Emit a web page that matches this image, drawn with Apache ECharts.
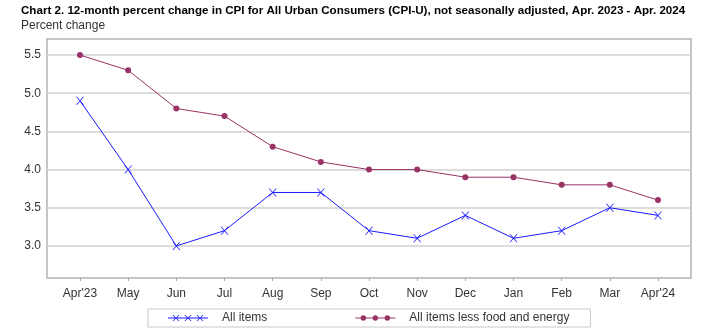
<!DOCTYPE html>
<html><head><meta charset="utf-8">
<script src="https://cdn.jsdelivr.net/npm/echarts@6/dist/echarts.min.js"></script>
<style>html,body{margin:0;padding:0;background:#fff}#c{width:706px;height:335px}</style>
</head><body><div id="c"></div>
<script>
const categories = ["Apr'23","May","Jun","Jul","Aug","Sep","Oct","Nov","Dec","Jan","Feb","Mar","Apr'24"];
const allItems = [4.9, 4.0, 3.0, 3.2, 3.7, 3.7, 3.2, 3.1, 3.4, 3.1, 3.2, 3.5, 3.4];
const coreItems = [5.5, 5.3, 4.8, 4.7, 4.3, 4.1, 4.0, 4.0, 3.9, 3.9, 3.8, 3.8, 3.6];
const yTicks = [3.0, 3.5, 4.0, 4.5, 5.0, 5.5];
const seriesNames = ["All items", "All items less food and energy"];

const FONT = "'Liberation Sans', Arial, sans-serif";
function xIcon(){
  let p = "M0 3.5 L40 3.5 L40 4.5 L0 4.5 Z";
  [8,20,32].forEach(c=>{
    p += ` M${c-3.6} 1 L${c-2.6} 1 L${c+3.6} 7 L${c+2.6} 7 Z`;
    p += ` M${c+2.6} 1 L${c+3.6} 1 L${c-2.6} 7 L${c-3.6} 7 Z`;
  });
  return "path://" + p + " M0 0 L0.01 0 L0.01 0.01 Z M40 8 L39.99 8 L39.99 7.99 Z";
}
function dotIcon(){
  let p = "M0 3.5 L40 3.5 L40 4.5 L0 4.5 Z";
  [8,20,32].forEach(c=>{
    p += ` M${c-2.7} 4 A2.7 2.7 0 1 1 ${c+2.7} 4 A2.7 2.7 0 1 1 ${c-2.7} 4 Z`;
  });
  return "path://" + p + " M0 0 L0.01 0 L0.01 0.01 Z M40 8 L39.99 8 L39.99 7.99 Z";
}
const idx = categories.map((_, i) => i);
const chart = echarts.init(document.getElementById('c'), null, {renderer:'canvas'});
chart.setOption({
  animation:false,
  backgroundColor:'#fff',
  title:[
    {text:'Chart 2. 12-month percent change in CPI for All Urban Consumers (CPI-U), not seasonally adjusted, Apr. 2023 - Apr. 2024',
     left:21, top:5, padding:0,
     textStyle:{fontFamily:FONT, fontSize:11.6, fontWeight:'bold', color:'#000'}},
    {text:'Percent change', left:21, top:20, padding:0,
     textStyle:{fontFamily:FONT, fontSize:12, fontWeight:'normal', color:'#333'}}
  ],
  grid:{left:47, right:15, top:39, bottom:57, show:true, borderColor:'#b4b4b4', borderWidth:1.5, containLabel:false},
  xAxis:{
    type:'value', min:-0.685, max:12.685,
    axisLine:{show:false},
    axisTick:{show:true, length:3, lineStyle:{color:'#aaa'}, customValues:idx},
    axisLabel:{customValues:idx, formatter:v=>categories[Math.round(v)], fontFamily:FONT, fontSize:12, color:'#333', margin:10},
    splitLine:{show:false}
  },
  yAxis:{
    type:'value', min:2.58, max:5.71,
    axisLine:{show:false},
    axisTick:{show:false, customValues:yTicks},
    axisLabel:{customValues:yTicks, formatter:v=>v.toFixed(1), fontFamily:FONT, fontSize:12, color:'#333', margin:6},
    splitLine:{show:true, lineStyle:{color:'#d2d2d2', width:1.5}}
  },
  legend:{
    left:148, top:309, orient:'horizontal',
    padding:[3,21,3,20], itemGap:88,
    borderColor:'#c8c8c8', borderWidth:1,
    itemWidth:40, itemHeight:8,
    textStyle:{fontFamily:FONT, fontSize:12, color:'#333', padding:[0,0,0,9]},
    data:[{name:seriesNames[0], icon:xIcon()},{name:seriesNames[1], icon:dotIcon()}]
  },
  series:[
    {name:seriesNames[0], type:'line', data:allItems.map((v,i)=>[i,v]),
     symbol:'path://M0 0 L1 0 L8 7 L7 7 Z M7 0 L8 0 L1 7 L0 7 Z', symbolSize:8,
     itemStyle:{color:'#1a1aff'}, lineStyle:{color:'#1a1aff', width:1}},
    {name:seriesNames[1], type:'line', data:coreItems.map((v,i)=>[i,v]),
     symbol:'circle', symbolSize:6,
     itemStyle:{color:'#993366', borderWidth:0}, lineStyle:{color:'#993366', width:1}}
  ]
});
</script></body></html>
